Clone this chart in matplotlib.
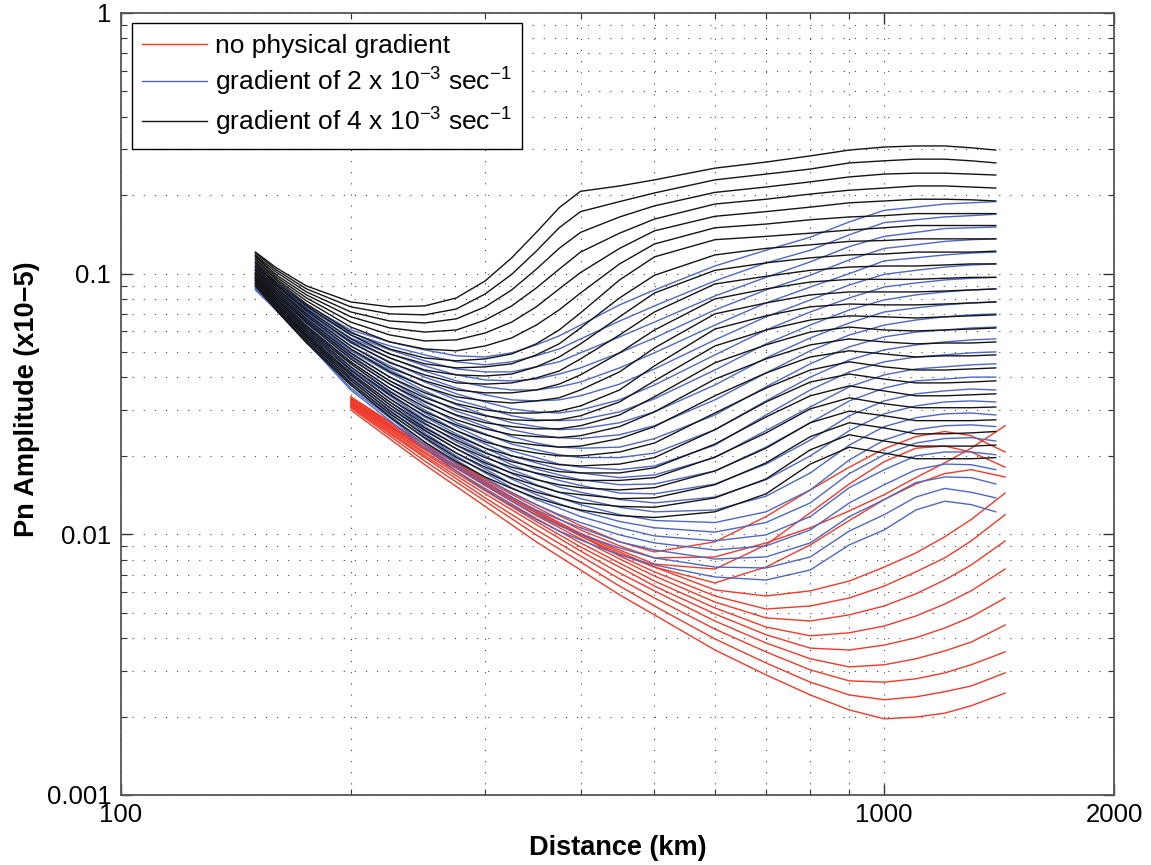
import matplotlib
matplotlib.use("Agg")
import matplotlib.pyplot as plt
from matplotlib.ticker import FixedLocator, FixedFormatter, NullFormatter
from matplotlib.lines import Line2D

plt.rcParams["font.family"] = ["Liberation Sans", "DejaVu Sans"]
plt.rcParams["mathtext.fontset"] = "custom"
plt.rcParams["mathtext.rm"] = "Liberation Sans"
plt.rcParams["mathtext.it"] = "Liberation Sans:italic"
plt.rcParams["mathtext.bf"] = "Liberation Sans:bold"

# Epicentral distances (km)
dist_gradient = [150, 160, 175, 200, 225, 250, 275, 300, 325, 350, 375, 400, 450,
                 500, 600, 700, 800, 900, 1000, 1100, 1200, 1300, 1400]
dist_no_gradient = [200, 250, 300, 350, 400, 450, 500, 600, 700, 800, 900,
                    1000, 1100, 1200, 1300, 1440]

# Pn amplitude (x1e-5), no physical gradient
amp_no_gradient = [
    [0.0337, 0.0222, 0.0163, 0.0130, 0.0108, 0.00936, 0.00856, 0.00936, 0.0117, 0.0148, 0.0181, 0.0213, 0.0237, 0.0248, 0.0239, 0.0207],
    [0.0334, 0.0220, 0.0161, 0.0127, 0.0104, 0.00903, 0.00812, 0.00819, 0.00927, 0.0106, 0.0123, 0.0142, 0.0165, 0.0188, 0.0214, 0.0261],
    [0.0331, 0.0216, 0.0158, 0.0123, 0.0101, 0.00871, 0.00769, 0.00736, 0.00911, 0.0121, 0.0156, 0.0190, 0.0214, 0.0218, 0.0207, 0.0181],
    [0.0328, 0.0214, 0.0156, 0.0121, 0.00986, 0.00841, 0.00749, 0.00651, 0.00749, 0.00911, 0.0113, 0.0136, 0.0156, 0.0171, 0.0177, 0.0166],
    [0.0325, 0.0214, 0.0158, 0.0123, 0.0100, 0.00856, 0.00749, 0.00612, 0.00580, 0.00607, 0.00662, 0.00749, 0.00848, 0.00978, 0.0114, 0.0144],
    [0.0322, 0.0213, 0.0155, 0.0121, 0.00986, 0.00826, 0.00718, 0.00580, 0.00517, 0.00531, 0.00570, 0.00633, 0.00718, 0.00812, 0.00943, 0.0119],
    [0.0319, 0.0211, 0.0154, 0.0118, 0.00961, 0.00805, 0.00692, 0.00550, 0.00478, 0.00465, 0.00491, 0.00531, 0.00591, 0.00668, 0.00763, 0.00943],
    [0.0317, 0.0207, 0.0150, 0.0115, 0.00927, 0.00776, 0.00662, 0.00522, 0.00441, 0.00408, 0.00419, 0.00445, 0.00486, 0.00540, 0.00607, 0.00736],
    [0.0314, 0.0204, 0.0147, 0.0112, 0.00895, 0.00749, 0.00633, 0.00495, 0.00412, 0.00366, 0.00360, 0.00376, 0.00401, 0.00437, 0.00482, 0.00570],
    [0.0311, 0.0200, 0.0143, 0.0109, 0.00863, 0.00711, 0.00607, 0.00465, 0.00383, 0.00333, 0.00310, 0.00316, 0.00333, 0.00357, 0.00386, 0.00449],
    [0.0308, 0.0197, 0.0138, 0.0104, 0.00826, 0.00675, 0.00570, 0.00433, 0.00354, 0.00302, 0.00274, 0.00271, 0.00279, 0.00294, 0.00316, 0.00354],
    [0.0306, 0.0191, 0.0134, 0.00995, 0.00783, 0.00633, 0.00531, 0.00397, 0.00321, 0.00271, 0.00242, 0.00232, 0.00238, 0.00249, 0.00262, 0.00294],
    [0.0300, 0.0185, 0.0128, 0.00936, 0.00730, 0.00586, 0.00491, 0.00360, 0.00289, 0.00242, 0.00212, 0.00196, 0.00199, 0.00206, 0.00220, 0.00246],
]

# Pn amplitude (x1e-5), gradient of 2e-3 1/s
amp_grad_2 = [
    [0.107, 0.0921, 0.0759, 0.0608, 0.0547, 0.0510, 0.0484, 0.0479, 0.0497, 0.0533, 0.0577, 0.0635, 0.0759, 0.0866, 0.107, 0.123, 0.138, 0.158, 0.175, 0.180, 0.185, 0.187, 0.189],
    [0.106, 0.0913, 0.0746, 0.0592, 0.0528, 0.0488, 0.0459, 0.0447, 0.0459, 0.0484, 0.0514, 0.0562, 0.0658, 0.0752, 0.0938, 0.110, 0.123, 0.141, 0.157, 0.161, 0.165, 0.167, 0.169],
    [0.105, 0.0905, 0.0739, 0.0582, 0.0510, 0.0463, 0.0431, 0.0420, 0.0420, 0.0439, 0.0459, 0.0497, 0.0572, 0.0652, 0.0821, 0.0968, 0.111, 0.127, 0.139, 0.144, 0.149, 0.150, 0.151],
    [0.104, 0.0897, 0.0726, 0.0567, 0.0492, 0.0443, 0.0409, 0.0391, 0.0388, 0.0394, 0.0412, 0.0435, 0.0497, 0.0567, 0.0726, 0.0866, 0.0986, 0.113, 0.125, 0.129, 0.133, 0.135, 0.136],
    [0.103, 0.0881, 0.0713, 0.0552, 0.0475, 0.0423, 0.0388, 0.0368, 0.0358, 0.0358, 0.0368, 0.0384, 0.0435, 0.0497, 0.0635, 0.0772, 0.0889, 0.100, 0.112, 0.115, 0.118, 0.120, 0.121],
    [0.102, 0.0874, 0.0707, 0.0542, 0.0459, 0.0401, 0.0364, 0.0343, 0.0328, 0.0325, 0.0328, 0.0340, 0.0377, 0.0431, 0.0557, 0.0683, 0.0793, 0.0905, 0.0994, 0.103, 0.106, 0.108, 0.109],
    [0.101, 0.0866, 0.0695, 0.0528, 0.0443, 0.0384, 0.0346, 0.0322, 0.0303, 0.0295, 0.0292, 0.0300, 0.0328, 0.0374, 0.0488, 0.0608, 0.0713, 0.0807, 0.0889, 0.0921, 0.0946, 0.0960, 0.0968],
    [0.100, 0.0858, 0.0683, 0.0514, 0.0427, 0.0368, 0.0328, 0.0306, 0.0285, 0.0275, 0.0273, 0.0275, 0.0295, 0.0331, 0.0427, 0.0538, 0.0635, 0.0726, 0.0793, 0.0829, 0.0851, 0.0866, 0.0874],
    [0.0994, 0.0851, 0.0676, 0.0506, 0.0416, 0.0355, 0.0314, 0.0287, 0.0268, 0.0259, 0.0252, 0.0254, 0.0268, 0.0295, 0.0374, 0.0475, 0.0567, 0.0647, 0.0713, 0.0739, 0.0759, 0.0772, 0.0779],
    [0.0986, 0.0843, 0.0664, 0.0492, 0.0401, 0.0340, 0.0297, 0.0273, 0.0252, 0.0241, 0.0235, 0.0233, 0.0241, 0.0261, 0.0328, 0.0416, 0.0506, 0.0582, 0.0635, 0.0664, 0.0683, 0.0695, 0.0701],
    [0.0977, 0.0836, 0.0652, 0.0479, 0.0388, 0.0325, 0.0285, 0.0259, 0.0237, 0.0224, 0.0216, 0.0214, 0.0216, 0.0233, 0.0287, 0.0368, 0.0451, 0.0524, 0.0572, 0.0597, 0.0608, 0.0619, 0.0624],
    [0.0968, 0.0821, 0.0647, 0.0471, 0.0377, 0.0314, 0.0268, 0.0243, 0.0222, 0.0211, 0.0202, 0.0197, 0.0197, 0.0205, 0.0252, 0.0325, 0.0401, 0.0467, 0.0510, 0.0533, 0.0547, 0.0557, 0.0562],
    [0.0960, 0.0814, 0.0635, 0.0459, 0.0364, 0.0300, 0.0259, 0.0230, 0.0209, 0.0197, 0.0186, 0.0181, 0.0177, 0.0183, 0.0220, 0.0287, 0.0358, 0.0420, 0.0459, 0.0479, 0.0488, 0.0497, 0.0501],
    [0.0951, 0.0807, 0.0624, 0.0451, 0.0355, 0.0292, 0.0250, 0.0222, 0.0200, 0.0188, 0.0178, 0.0172, 0.0165, 0.0169, 0.0197, 0.0250, 0.0308, 0.0368, 0.0409, 0.0431, 0.0439, 0.0447, 0.0451],
    [0.0946, 0.0800, 0.0619, 0.0439, 0.0346, 0.0282, 0.0243, 0.0214, 0.0193, 0.0178, 0.0169, 0.0162, 0.0155, 0.0156, 0.0175, 0.0216, 0.0268, 0.0325, 0.0364, 0.0388, 0.0394, 0.0401, 0.0401],
    [0.0938, 0.0793, 0.0608, 0.0431, 0.0340, 0.0275, 0.0235, 0.0207, 0.0185, 0.0171, 0.0161, 0.0154, 0.0144, 0.0143, 0.0156, 0.0186, 0.0230, 0.0285, 0.0325, 0.0346, 0.0355, 0.0361, 0.0358],
    [0.0929, 0.0786, 0.0603, 0.0423, 0.0331, 0.0268, 0.0226, 0.0200, 0.0177, 0.0163, 0.0152, 0.0145, 0.0136, 0.0132, 0.0139, 0.0162, 0.0200, 0.0250, 0.0290, 0.0311, 0.0322, 0.0325, 0.0322],
    [0.0921, 0.0772, 0.0592, 0.0412, 0.0322, 0.0259, 0.0220, 0.0191, 0.0171, 0.0155, 0.0145, 0.0137, 0.0127, 0.0122, 0.0124, 0.0140, 0.0172, 0.0220, 0.0259, 0.0280, 0.0290, 0.0292, 0.0287],
    [0.0913, 0.0765, 0.0587, 0.0405, 0.0314, 0.0252, 0.0213, 0.0185, 0.0163, 0.0148, 0.0138, 0.0130, 0.0119, 0.0113, 0.0111, 0.0122, 0.0148, 0.0193, 0.0230, 0.0252, 0.0261, 0.0263, 0.0259],
    [0.0905, 0.0759, 0.0582, 0.0398, 0.0306, 0.0245, 0.0205, 0.0178, 0.0156, 0.0142, 0.0131, 0.0123, 0.0112, 0.0106, 0.0102, 0.0111, 0.0132, 0.0171, 0.0202, 0.0224, 0.0233, 0.0235, 0.0228],
    [0.0897, 0.0752, 0.0572, 0.0388, 0.0300, 0.0239, 0.0200, 0.0172, 0.0151, 0.0136, 0.0126, 0.0117, 0.0106, 0.00986, 0.00944, 0.00995, 0.0117, 0.0151, 0.0177, 0.0200, 0.0207, 0.0207, 0.0202],
    [0.0889, 0.0746, 0.0567, 0.0381, 0.0292, 0.0233, 0.0193, 0.0165, 0.0144, 0.0130, 0.0119, 0.0111, 0.00995, 0.00927, 0.00871, 0.00903, 0.0104, 0.0132, 0.0155, 0.0177, 0.0186, 0.0185, 0.0177],
    [0.0881, 0.0732, 0.0562, 0.0374, 0.0285, 0.0226, 0.0186, 0.0159, 0.0139, 0.0124, 0.0114, 0.0106, 0.00936, 0.00871, 0.00804, 0.00819, 0.00927, 0.0117, 0.0136, 0.0158, 0.0166, 0.0165, 0.0156],
    [0.0874, 0.0726, 0.0552, 0.0364, 0.0280, 0.0220, 0.0181, 0.0154, 0.0134, 0.0119, 0.0108, 0.0100, 0.00887, 0.00812, 0.00749, 0.00743, 0.00819, 0.0103, 0.0119, 0.0139, 0.0150, 0.0145, 0.0138],
    [0.0866, 0.0720, 0.0547, 0.0358, 0.0273, 0.0214, 0.0175, 0.0148, 0.0129, 0.0114, 0.0103, 0.00952, 0.00833, 0.00763, 0.00686, 0.00668, 0.00730, 0.00911, 0.0104, 0.0124, 0.0134, 0.0130, 0.0122],
]

# Pn amplitude (x1e-5), gradient of 4e-3 1/s
amp_grad_4 = [
    [0.121, 0.105, 0.0897, 0.0779, 0.0746, 0.0752, 0.0807, 0.0938, 0.115, 0.144, 0.179, 0.207, 0.217, 0.229, 0.254, 0.268, 0.283, 0.298, 0.306, 0.309, 0.309, 0.304, 0.298],
    [0.120, 0.103, 0.0874, 0.0746, 0.0701, 0.0695, 0.0732, 0.0836, 0.0994, 0.122, 0.150, 0.173, 0.189, 0.204, 0.229, 0.241, 0.252, 0.266, 0.271, 0.275, 0.275, 0.271, 0.266],
    [0.118, 0.101, 0.0851, 0.0713, 0.0658, 0.0647, 0.0671, 0.0746, 0.0866, 0.104, 0.125, 0.144, 0.165, 0.182, 0.205, 0.215, 0.225, 0.235, 0.241, 0.243, 0.243, 0.241, 0.239],
    [0.117, 0.0986, 0.0829, 0.0683, 0.0619, 0.0597, 0.0608, 0.0664, 0.0752, 0.0881, 0.104, 0.121, 0.143, 0.162, 0.185, 0.193, 0.202, 0.209, 0.213, 0.217, 0.217, 0.215, 0.213],
    [0.116, 0.0968, 0.0807, 0.0652, 0.0582, 0.0552, 0.0557, 0.0592, 0.0652, 0.0746, 0.0874, 0.101, 0.125, 0.146, 0.166, 0.173, 0.180, 0.187, 0.190, 0.193, 0.193, 0.192, 0.190],
    [0.114, 0.0951, 0.0786, 0.0624, 0.0547, 0.0514, 0.0506, 0.0528, 0.0567, 0.0635, 0.0726, 0.0843, 0.109, 0.130, 0.150, 0.155, 0.161, 0.165, 0.167, 0.170, 0.170, 0.170, 0.170],
    [0.113, 0.0938, 0.0765, 0.0597, 0.0514, 0.0475, 0.0463, 0.0471, 0.0492, 0.0538, 0.0608, 0.0707, 0.0946, 0.116, 0.135, 0.139, 0.143, 0.147, 0.150, 0.153, 0.153, 0.153, 0.153],
    [0.111, 0.0921, 0.0752, 0.0582, 0.0492, 0.0451, 0.0435, 0.0439, 0.0451, 0.0488, 0.0538, 0.0619, 0.0807, 0.0986, 0.118, 0.125, 0.129, 0.133, 0.134, 0.136, 0.136, 0.136, 0.136],
    [0.110, 0.0905, 0.0732, 0.0562, 0.0475, 0.0427, 0.0409, 0.0405, 0.0412, 0.0439, 0.0479, 0.0538, 0.0683, 0.0843, 0.103, 0.110, 0.115, 0.118, 0.119, 0.121, 0.121, 0.121, 0.122],
    [0.109, 0.0897, 0.0720, 0.0547, 0.0455, 0.0409, 0.0381, 0.0377, 0.0381, 0.0398, 0.0423, 0.0471, 0.0582, 0.0713, 0.0913, 0.0977, 0.103, 0.106, 0.107, 0.107, 0.108, 0.109, 0.109],
    [0.107, 0.0881, 0.0701, 0.0528, 0.0435, 0.0388, 0.0358, 0.0349, 0.0349, 0.0358, 0.0377, 0.0409, 0.0497, 0.0608, 0.0800, 0.0874, 0.0929, 0.0951, 0.0951, 0.0951, 0.0960, 0.0968, 0.0968],
    [0.106, 0.0866, 0.0689, 0.0514, 0.0420, 0.0368, 0.0337, 0.0325, 0.0319, 0.0325, 0.0334, 0.0358, 0.0420, 0.0519, 0.0701, 0.0772, 0.0829, 0.0851, 0.0851, 0.0851, 0.0858, 0.0866, 0.0874],
    [0.104, 0.0851, 0.0671, 0.0497, 0.0401, 0.0349, 0.0317, 0.0300, 0.0292, 0.0292, 0.0297, 0.0311, 0.0358, 0.0443, 0.0613, 0.0689, 0.0746, 0.0765, 0.0759, 0.0759, 0.0765, 0.0772, 0.0779],
    [0.103, 0.0836, 0.0658, 0.0484, 0.0388, 0.0334, 0.0303, 0.0285, 0.0275, 0.0273, 0.0275, 0.0285, 0.0322, 0.0388, 0.0528, 0.0608, 0.0664, 0.0689, 0.0683, 0.0676, 0.0683, 0.0689, 0.0695],
    [0.101, 0.0829, 0.0647, 0.0471, 0.0377, 0.0322, 0.0287, 0.0268, 0.0259, 0.0254, 0.0254, 0.0261, 0.0287, 0.0337, 0.0455, 0.0533, 0.0597, 0.0624, 0.0608, 0.0603, 0.0608, 0.0613, 0.0619],
    [0.100, 0.0814, 0.0630, 0.0459, 0.0364, 0.0308, 0.0275, 0.0254, 0.0241, 0.0237, 0.0235, 0.0239, 0.0259, 0.0295, 0.0394, 0.0471, 0.0533, 0.0562, 0.0547, 0.0538, 0.0542, 0.0542, 0.0547],
    [0.0994, 0.0800, 0.0619, 0.0451, 0.0352, 0.0295, 0.0263, 0.0241, 0.0226, 0.0220, 0.0216, 0.0218, 0.0233, 0.0259, 0.0340, 0.0416, 0.0479, 0.0506, 0.0492, 0.0479, 0.0484, 0.0484, 0.0488],
    [0.0977, 0.0793, 0.0608, 0.0439, 0.0343, 0.0285, 0.0250, 0.0226, 0.0213, 0.0205, 0.0200, 0.0200, 0.0207, 0.0224, 0.0292, 0.0364, 0.0427, 0.0459, 0.0439, 0.0427, 0.0427, 0.0431, 0.0435],
    [0.0968, 0.0779, 0.0597, 0.0427, 0.0331, 0.0273, 0.0239, 0.0214, 0.0200, 0.0191, 0.0185, 0.0183, 0.0186, 0.0197, 0.0252, 0.0322, 0.0384, 0.0412, 0.0394, 0.0381, 0.0381, 0.0384, 0.0388],
    [0.0960, 0.0765, 0.0587, 0.0416, 0.0322, 0.0265, 0.0230, 0.0205, 0.0190, 0.0181, 0.0174, 0.0172, 0.0172, 0.0180, 0.0222, 0.0282, 0.0340, 0.0371, 0.0355, 0.0340, 0.0340, 0.0343, 0.0346],
    [0.0946, 0.0759, 0.0577, 0.0409, 0.0314, 0.0256, 0.0220, 0.0197, 0.0181, 0.0172, 0.0165, 0.0161, 0.0161, 0.0165, 0.0198, 0.0245, 0.0303, 0.0334, 0.0317, 0.0306, 0.0306, 0.0306, 0.0308],
    [0.0938, 0.0746, 0.0572, 0.0398, 0.0306, 0.0250, 0.0213, 0.0188, 0.0172, 0.0162, 0.0155, 0.0151, 0.0148, 0.0151, 0.0175, 0.0214, 0.0268, 0.0297, 0.0285, 0.0273, 0.0273, 0.0273, 0.0275],
    [0.0921, 0.0739, 0.0562, 0.0391, 0.0297, 0.0241, 0.0205, 0.0181, 0.0165, 0.0154, 0.0145, 0.0142, 0.0137, 0.0138, 0.0155, 0.0188, 0.0237, 0.0268, 0.0256, 0.0243, 0.0243, 0.0245, 0.0248],
    [0.0913, 0.0726, 0.0552, 0.0381, 0.0290, 0.0235, 0.0197, 0.0174, 0.0156, 0.0145, 0.0138, 0.0132, 0.0128, 0.0127, 0.0138, 0.0163, 0.0211, 0.0241, 0.0228, 0.0218, 0.0218, 0.0218, 0.0220],
    [0.0897, 0.0720, 0.0542, 0.0374, 0.0282, 0.0226, 0.0190, 0.0166, 0.0150, 0.0138, 0.0130, 0.0124, 0.0118, 0.0116, 0.0122, 0.0143, 0.0186, 0.0216, 0.0205, 0.0195, 0.0195, 0.0195, 0.0197],
]

legend_labels = [
    "no physical gradient",
    r"gradient of 2 x 10$^{-3}$ sec$^{-1}$",
    r"gradient of 4 x 10$^{-3}$ sec$^{-1}$",
]
x_ticks = [100, 1000, 2000]
x_ticklabels = ["100", "1000", "2000"]
y_ticks = [0.001, 0.01, 0.1, 1]
y_ticklabels = ["0.001", "0.01", "0.1", "1"]

RED = "#ef3a2a"
BLUE = "#4d68c2"
BLACK = "#141414"
LW = 1.0

W, H = 1151, 865
fig = plt.figure(figsize=(W / 100, H / 100), dpi=100)
ax = fig.add_axes([121 / W, 1 - 795 / H, 993 / W, 782 / H])

for curve in amp_no_gradient:
    ax.plot(dist_no_gradient, curve, color=RED, lw=LW, solid_joinstyle="round")
for curve in amp_grad_2:
    ax.plot(dist_gradient, curve, color=BLUE, lw=LW, solid_joinstyle="round")
for curve in amp_grad_4:
    ax.plot(dist_gradient, curve, color=BLACK, lw=LW, solid_joinstyle="round")

ax.set_xscale("log")
ax.set_yscale("log")
ax.set_xlim(100, 2000)
ax.set_ylim(0.001, 1)

ax.xaxis.set_major_locator(FixedLocator(x_ticks))
ax.xaxis.set_major_formatter(FixedFormatter(x_ticklabels))
ax.xaxis.set_minor_locator(FixedLocator([200, 300, 400, 500, 600, 700, 800, 900]))
ax.xaxis.set_minor_formatter(NullFormatter())
ax.yaxis.set_major_locator(FixedLocator(y_ticks))
ax.yaxis.set_major_formatter(FixedFormatter(y_ticklabels))
ax.yaxis.set_minor_locator(FixedLocator([m * 10.0 ** e for e in (-3, -2, -1) for m in range(2, 10)]))
ax.yaxis.set_minor_formatter(NullFormatter())

ax.tick_params(which="both", direction="in", top=True, right=True,
               color="#333333", labelsize=18.5, labelcolor="black")
ax.tick_params(which="major", length=8, width=1.0)
ax.tick_params(which="minor", length=4, width=0.8)
ax.tick_params(axis="x", pad=6)
ax.tick_params(axis="y", pad=7)

ax.grid(True, which="both", linestyle=(0, (1, 9)), color="#444444", linewidth=0.8)
for sp in ax.spines.values():
    sp.set_color("#555555")
    sp.set_linewidth(1.3)

handles = [Line2D([], [], color=c, lw=LW) for c in (RED, BLUE, BLACK)]
leg = ax.legend(handles, legend_labels, loc="upper left",
                bbox_to_anchor=(0.0108, 0.9868), borderaxespad=0,
                frameon=True, fancybox=False, edgecolor="black", framealpha=1,
                fontsize=19, handlelength=2.45, handletextpad=0.3,
                borderpad=0.4, labelspacing=0.3)
leg.get_frame().set_linewidth(1.0)

fig.text(618 / W, 1 - 848 / H, "Distance (km)", ha="center", va="center",
         fontsize=19.5, fontweight="bold")
fig.text(27 / W, 1 - 399 / H, "Pn Amplitude (x10\u22125)", ha="center", va="center",
         rotation=90, fontsize=19.5, fontweight="bold")

fig.savefig("out.png", dpi=100)
